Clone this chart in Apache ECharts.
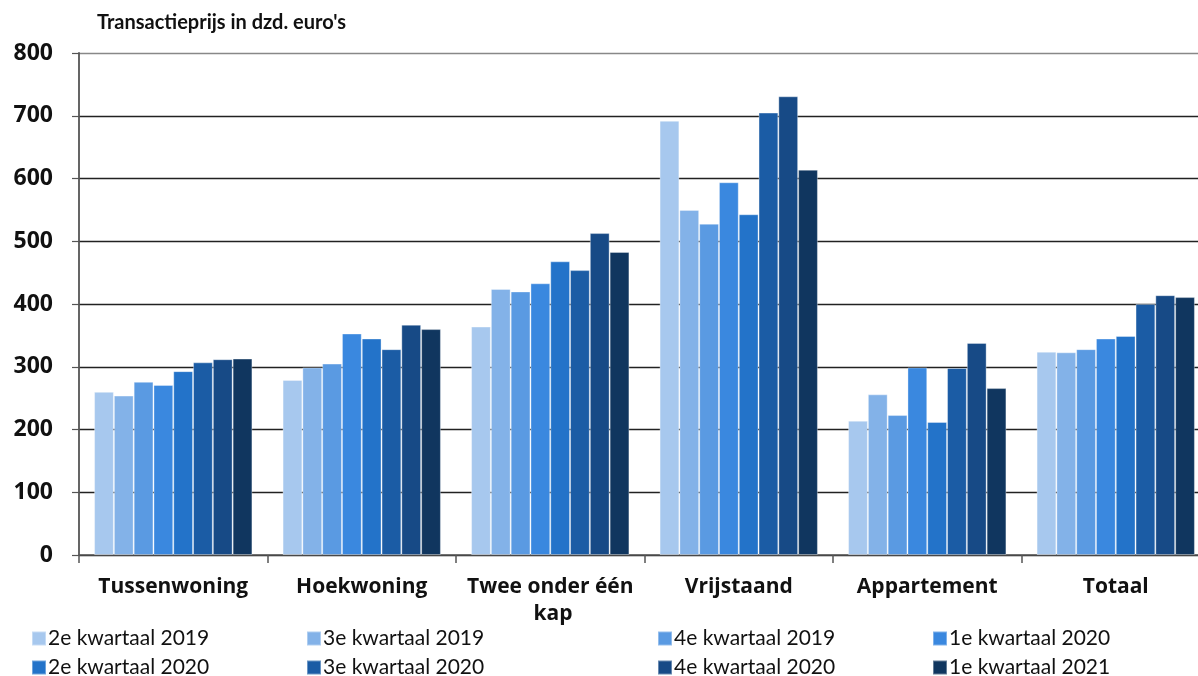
<!DOCTYPE html>
<html>
<head>
<meta charset="utf-8">
<script src="https://cdn.jsdelivr.net/npm/echarts@6/dist/echarts.min.js"></script>
<style>
  html, body { margin: 0; padding: 0; background: #fff; overflow: hidden; }
  #chart { width: 1216px; height: 676px; }
</style>
</head>
<body>
<div id="chart"></div>
<script>
// Woningtypen op de categorie-as
const categories = ['Tussenwoning', 'Hoekwoning', 'Twee onder één kap', 'Vrijstaand', 'Appartement', 'Totaal'];

// Kwartalen (één reeks per kwartaal)
const quarters = [
  '2e kwartaal 2019', '3e kwartaal 2019', '4e kwartaal 2019', '1e kwartaal 2020',
  '2e kwartaal 2020', '3e kwartaal 2020', '4e kwartaal 2020', '1e kwartaal 2021'
];

// Transactieprijs in duizenden euro's, per kwartaal, in volgorde van de categorieën
const q2_2019 = [260, 279, 364, 692, 214, 324];
const q3_2019 = [254, 299, 424, 550, 256, 323];
const q4_2019 = [276, 305, 420, 528, 223, 328];
const q1_2020 = [271, 353, 433, 594, 299, 345];
const q2_2020 = [293, 345, 468, 543, 212, 349];
const q3_2020 = [307, 328, 454, 705, 298, 400];
const q4_2020 = [312, 367, 513, 731, 338, 414];
const q1_2021 = [313, 360, 483, 614, 266, 411];

const seriesValues = [q2_2019, q3_2019, q4_2019, q1_2020, q2_2020, q3_2020, q4_2020, q1_2021];

// Y-as
const yMin = 0, yMax = 800, yStep = 100;

const colors = ['#A7C8EE', '#83B2E8', '#5A9AE2', '#3A88DF', '#2373C9', '#1B5CA5', '#174A86', '#10365F'];

const chart = echarts.init(document.getElementById('chart'), null, { renderer: 'canvas' });

// Legenda: vier kolommen, twee regels; elk item een eigen legend-blok
const legendColumnsX = [31, 306, 657, 932];
const legendRowsY = [628, 657];
const legends = quarters.map((q, i) => ({
  left: legendColumnsX[i % 4],
  top: legendRowsY[Math.floor(i / 4)],
  itemWidth: 14,
  itemHeight: 14,
  icon: 'rect',
  padding: 0,
  textStyle: { fontFamily: 'Lato', fontSize: 21, color: '#111', padding: [0, 0, 0, -3] },
  data: [q]
}));

const option = {
  animation: false,
  textStyle: { fontFamily: 'Lato' },
  title: {
    text: "Transactieprijs in dzd. euro's",
    left: 92,
    top: 8,
    textStyle: { fontFamily: 'Lato', fontWeight: 'bold', fontSize: 20, color: '#111' }
  },
  legend: legends,
  grid: { left: 79, top: 53, width: 1131, height: 502, containLabel: false },
  xAxis: {
    type: 'category',
    data: categories,
    boundaryGap: true,
    axisLine: { lineStyle: { color: '#555', width: 1.5 } },
    axisTick: { show: true, length: 8, lineStyle: { color: '#555', width: 1.5 } },
    axisLabel: {
      fontFamily: 'Open Sans',
      fontWeight: 'bold',
      fontSize: 21,
      color: '#111',
      margin: 19,
      width: 188,
      overflow: 'break',
      lineHeight: 27,
      interval: 0
    }
  },
  yAxis: {
    type: 'value',
    min: yMin,
    max: yMax,
    interval: yStep,
    axisLine: { show: true, lineStyle: { color: '#555', width: 1.8 } },
    axisTick: { show: true, length: 7, lineStyle: { color: '#555', width: 1.2 } },
    axisLabel: {
      fontFamily: 'Open Sans',
      fontWeight: 'bold',
      fontSize: 23,
      color: '#111',
      margin: 26
    },
    splitLine: {
      show: true,
      lineStyle: {
        color: ['#222', '#222', '#222', '#222', '#222', '#222', '#222', '#222', '#888'],
        width: 1.3
      }
    }
  },
  series: seriesValues.map((vals, i) => ({
    name: quarters[i],
    type: 'bar',
    data: vals,
    barGap: '0%',
    barCategoryGap: '16%',
    itemStyle: {
      color: colors[i],
      borderColor: 'rgba(255,255,255,0.35)',
      borderWidth: 1
    }
  }))
};

chart.setOption(option);
</script>
</body>
</html>
